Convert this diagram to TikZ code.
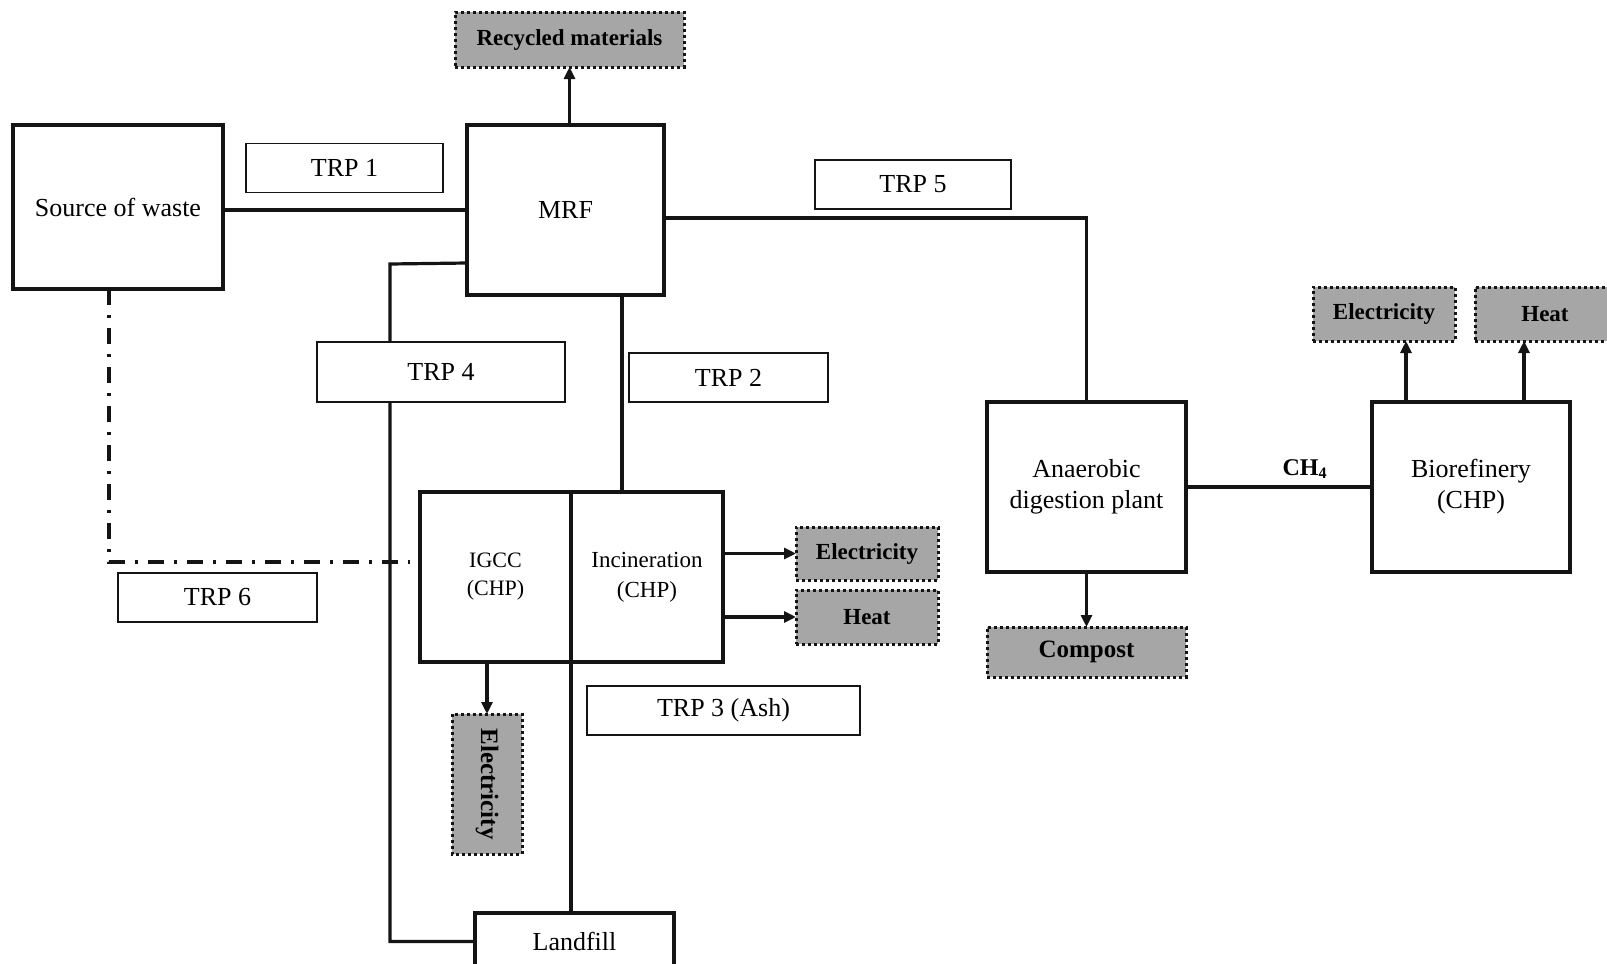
\documentclass[tikz,border=0pt]{standalone}
\usepackage{fontspec}
\setmainfont{Liberation Serif}
\usepackage{tikz}
\usetikzlibrary{arrows.meta}
\definecolor{lineblack}{RGB}{20, 20, 20}
\definecolor{outgray}{RGB}{166, 166, 166}

\begin{document}
\begin{tikzpicture}[
  x=0.5pt, y=-0.5pt,
  unit/.style={draw=lineblack, line width=1.6pt, fill=white, inner sep=0pt, outer sep=0pt,
    align=center, font=\fontsize{13}{15.5}\selectfont},
  trp/.style={draw=lineblack, line width=0.75pt, fill=white, inner sep=0pt, outer sep=0pt,
    minimum width=#1, minimum height=24.5pt, font=\fontsize{13}{15.5}\selectfont},
  output/.style={draw=lineblack, line width=1.5pt, dash pattern=on 1.5pt off 1.5pt, fill=outgray,
    inner sep=0pt, outer sep=0pt, font=\bfseries\fontsize{11.5}{14}\selectfont},
  link/.style={draw=lineblack, line width=1.6pt},
  flow/.style={link, -{Triangle[length=6pt,width=5.5pt]}},
  dashdot/.style={draw=lineblack, line width=1.6pt, dash pattern=on 8pt off 5pt on 1.5pt off 5pt}
]
\useasboundingbox (0,0) rectangle (1607,964);

% plants
\node[unit, minimum width=105pt, minimum height=82pt] (src) at (118,207) {Source of waste};
\node[unit, minimum width=98.5pt, minimum height=85pt] (mrf) at (565.5,210) {MRF};
\node[unit, minimum width=75.5pt, minimum height=85pt, font=\fontsize{11}{14}\selectfont] (igcc) at (495.5,577) {IGCC\\(CHP)};
\node[unit, minimum width=76pt, minimum height=85pt, font=\fontsize{11.5}{15}\selectfont] (inc) at (647,577) {Incineration\\(CHP)};
\node[unit, minimum width=99.5pt, minimum height=85pt] (ad) at (1086.5,487) {Anaerobic\\digestion plant};
\node[unit, minimum width=99pt, minimum height=85pt] (bio) at (1471,487) {Biorefinery\\(CHP)};
\node[unit, minimum width=99.5pt, minimum height=28.5pt] (land) at (574.5,941.5) {Landfill};

% products
\node[output, minimum width=114.5pt, minimum height=27.5pt] (rec) at (569.5,39.5) {Recycled materials};
\node[output, minimum width=71pt, minimum height=26.5pt] (elinc) at (867,553.5) {Electricity};
\node[output, minimum width=71pt, minimum height=27pt] (heatinc) at (867,617) {Heat};
\node[output, minimum width=70pt, minimum height=35pt, rotate=-90, font=\bfseries\fontsize{12.5}{14}\selectfont] (eligcc) at (487,784) {Electricity};
\node[output, minimum width=99.5pt, minimum height=25pt, font=\bfseries\fontsize{12.5}{14}\selectfont] (comp) at (1086.5,652) {Compost};
\node[output, minimum width=71pt, minimum height=27pt] (elbio) at (1384,314) {Electricity};
\node[output, minimum width=70pt, minimum height=27pt] (heatbio) at (1545,314) {Heat};

% connections
\coordinate (bend4) at (390,264);
\coordinate (ddend) at (410,562);
\draw[link] (mrf.west) -- (mrf.west -| src.east);
\draw[flow] (mrf.north -| rec.south) -- (rec.south);
\draw[link] ([yshift=-4pt]mrf.east) -| (ad.north);
\draw[link] ([xshift=28.25pt]mrf.south) -- ([xshift=28.25pt]mrf.south |- inc.north);
\draw[link] ([yshift=-26.5pt]mrf.west) -- (bend4) |- (land.west);
\draw[link] (igcc.north east) -- (igcc.north east |- land.north);
\draw[flow] (inc.east |- elinc.west) -- (elinc.west);
\draw[flow] (inc.east |- heatinc.west) -- (heatinc.west);
\draw[flow] (eligcc.west |- igcc.south) -- (eligcc.west);
\draw[flow] (ad.south) -- (comp.north);
\draw[link] (ad.east) -- (bio.west);
\draw[flow] ([xshift=-32.5pt]bio.north) -- ([xshift=-32.5pt]bio.north |- elbio.south);
\draw[flow] ([xshift=26.5pt]bio.north) -- ([xshift=26.5pt]bio.north |- heatbio.south);
\draw[dashdot] ([xshift=-4.5pt]src.south) |- (ddend);

% transport labels
\node[trp=98.5pt] (trp1) at (344.5,168) {TRP 1};
\node[trp=99.5pt] (trp2) at (728.5,377.5) {TRP 2};
\node[trp=136.5pt] (trp3) at (723.5,710.5) {TRP 3 (Ash)};
\node[trp=124pt, minimum height=30pt] (trp4) at (441,372) {TRP 4};
\node[trp=98pt] (trp5) at (913,184.5) {TRP 5};
\node[trp=99.5pt] (trp6) at (217.5,597.5) {TRP 6};
\node[font=\bfseries\fontsize{12}{14}\selectfont] (ch4) at (1305,469) {CH\textsubscript{4}};
\end{tikzpicture}
\end{document}
